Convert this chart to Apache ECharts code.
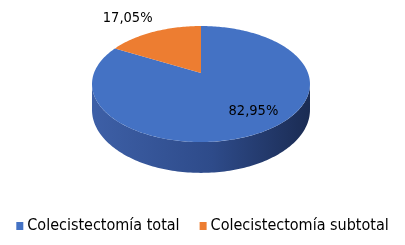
<!DOCTYPE html>
<html><head><meta charset="utf-8">
<script src="https://cdn.jsdelivr.net/npm/echarts@6/dist/echarts.min.js"></script>
<style>html,body{margin:0;padding:0;background:#fff}#c{width:405px;height:245px}</style>
</head><body><div id="c"></div>
<script>
const categories = ['Colecistectomía total', 'Colecistectomía subtotal'];
const values = [82.95, 17.05];
const topColors = ['#4472C4', '#ED7D31'];
const sideColors = [['#3D5FA6', '#2E4B8A', '#1B2C54'], ['#B35A1F', '#9A4C1A', '#7A3A12']];

// 3D pie perspective geometry (style)
const CX = 201, CY = 73, A = 107, C = 55.9, E = 0.19, D = 25;
const labelK = [[0.85, 0.7], [1.65, 1.4]];
const FONT = '"DejaVu Sans Condensed", "DejaVu Sans", sans-serif';

const total = values.reduce((a, b) => a + b, 0);
const angles = [];
let acc = 0;
values.forEach(v => {
  const a0 = Math.PI / 2 - acc / total * 2 * Math.PI;
  acc += v;
  const a1 = Math.PI / 2 - acc / total * 2 * Math.PI;
  angles.push([a1, a0]);
});
function proj(X, Z, dy) {
  const w = 1 + E * Z;
  return [CX + A * X / w, CY - C * Z / w + D * dy / w];
}
function pt(a, dy) { return proj(Math.cos(a), Math.sin(a), dy || 0); }
function arcPts(a, b, dy) {
  const n = Math.max(2, Math.ceil(Math.abs(b - a) / 0.02));
  const out = [];
  for (let k = 0; k <= n; k++) out.push(pt(a + (b - a) * k / n, dy));
  return out;
}
function fmt(v) { return v.toFixed(2).replace('.', ',') + '%'; }

function renderSlice(idx) {
  return function (params, api) {
    const lo = angles[idx][0], hi = angles[idx][1];
    const children = [];
    const as = Math.asin(E);
    for (let k = -2; k <= 1; k++) {
      const s0 = Math.max(lo, -Math.PI + as + 2 * Math.PI * k);
      const s1 = Math.min(hi, -as + 2 * Math.PI * k);
      if (s1 > s0) {
        const top = arcPts(s0, s1, 0);
        const bot = arcPts(s1, s0, 1);
        children.push({
          type: 'polygon',
          shape: { points: top.concat(bot) },
          style: {
            fill: {
              type: 'linear', x: CX - A, y: 0, x2: CX + A, y2: 0, global: true,
              colorStops: [
                { offset: 0, color: sideColors[idx][0] },
                { offset: 0.55, color: sideColors[idx][1] },
                { offset: 1, color: sideColors[idx][2] }
              ]
            }
          }
        });
      }
    }
    const topPts = [[CX, CY]].concat(arcPts(hi, lo, 0));
    children.push({
      type: 'polygon',
      shape: { points: topPts },
      style: { fill: topColors[idx] }
    });
    const mid = (lo + hi) / 2;
    const lp = proj(labelK[idx][0] * Math.cos(mid), labelK[idx][1] * Math.sin(mid), 0);
    children.push({
      type: 'text',
      x: lp[0], y: lp[1],
      style: {
        text: fmt(values[idx]),
        align: 'center', verticalAlign: 'middle',
        fill: '#000',
        font: '14.5px ' + FONT
      }
    });
    return { type: 'group', children };
  };
}

const chart = echarts.init(document.getElementById('c'), null, { renderer: 'canvas' });
chart.setOption({
  animation: false,
  color: topColors,
  legend: {
    data: categories,
    top: 213,
    left: 'center',
    icon: 'rect',
    itemWidth: 7,
    itemHeight: 8,
    itemGap: 20,
    textStyle: { fontSize: 16, color: '#000', fontFamily: FONT, padding: [0, 0, 0, -1] }
  },
  series: categories.map((name, i) => ({
    type: 'custom',
    name: name,
    coordinateSystem: 'none',
    silent: true,
    itemStyle: { color: topColors[i] },
    data: [values[i]],
    renderItem: renderSlice(i)
  }))
});
</script>
</body></html>
